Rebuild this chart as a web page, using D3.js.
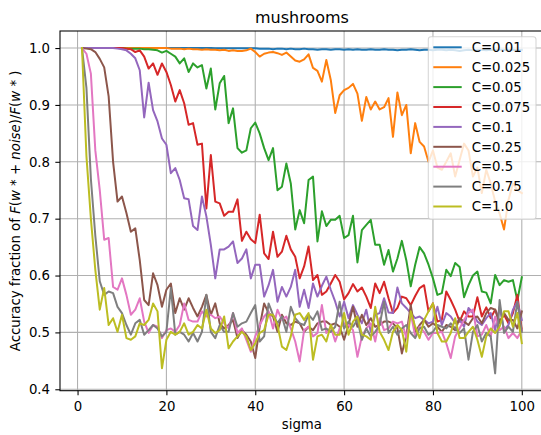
<!DOCTYPE html>
<html>
<head>
<meta charset="utf-8">
<script src="https://cdn.jsdelivr.net/npm/d3@7"></script>
<style>
  html, body { margin: 0; padding: 0; background: #fff; }
  svg { display: block; font-family: "DejaVu Sans", sans-serif; }
</style>
</head>
<body>
<div id="chart"></div>
<script>
// sigma runs 1..100, one point per integer value
const sigma = d3.range(1, 101);

const labels = ["C=0.01", "C=0.025", "C=0.05", "C=0.075", "C=0.1", "C=0.25", "C=0.5", "C=0.75", "C=1.0"];
const colors = ["#1f77b4", "#ff7f0e", "#2ca02c", "#d62728", "#9467bd", "#8c564b", "#e377c2", "#7f7f7f", "#bcbd22"];

// values
const c001 = [
  1,1,1,1,1,1,1,1,1,1, 1,1,1,1,1,1,1,1,1,1, 1,1,1,1,1,1,1,1,1,1,
  0.9995,0.9995,0.9995,0.9995,0.9995,0.9995,0.9995,0.9995,0.9995,0.9995,
  0.999,0.999,0.999,0.998,0.999,0.999,0.998,0.999,0.998,0.998,
  0.999,0.998,0.998,0.997,0.998,0.998,0.997,0.998,0.998,0.997,
  0.998,0.997,0.998,0.997,0.997,0.998,0.997,0.997,0.998,0.997,
  0.997,0.996,0.997,0.997,0.998,0.997,0.996,0.997,0.997,0.996,
  0.997,0.997,0.996,0.997,0.996,0.995,0.996,0.997,0.996,0.996,
  0.997,0.996,0.997,0.996,0.997,0.997,0.996,0.997,0.996,0.997
];
const c0025 = [
  1,1,1,1,1,1,1,1,1,1, 1,1,1,1,1,1,1,1,1,1,
  0.999,0.999,0.999,0.998,0.999,0.998,0.998,0.997,0.998,0.997,
  0.997,0.996,0.997,0.995,0.996,0.995,0.995,0.996,0.999,0.993,
  0.985,0.990,0.992,0.993,0.991,0.988,0.992,0.985,0.978,0.976,
  0.980,0.989,0.965,0.960,0.941,0.979,0.944,0.886,0.917,0.926,
  0.930,0.937,0.920,0.872,0.914,0.892,0.906,0.892,0.896,0.912,
  0.844,0.922,0.882,0.900,0.815,0.868,0.835,0.827,0.800,0.820,
  0.790,0.786,0.800,0.815,0.774,0.803,0.832,0.820,0.774,0.790,
  0.745,0.786,0.762,0.730,0.709,0.681,0.733,0.762,0.750,0.745
];
const c005 = [
  1,1,1,1,1,1,1,1,1,1,
  0.999,0.999,0.999,0.999,0.998,0.998,0.997,0.996,0.992,0.995,
  0.990,0.985,0.973,0.982,0.958,0.973,0.966,0.970,0.929,0.964,
  0.892,0.938,0.951,0.868,0.894,0.824,0.816,0.820,0.859,0.869,
  0.850,0.824,0.803,0.824,0.750,0.756,0.797,0.762,0.681,0.715,
  0.692,0.768,0.774,0.660,0.713,0.687,0.698,0.698,0.705,0.666,
  0.671,0.705,0.623,0.680,0.689,0.698,0.654,0.654,0.619,0.645,
  0.607,0.630,0.661,0.627,0.581,0.619,0.650,0.639,0.619,0.595,
  0.566,0.569,0.610,0.599,0.622,0.615,0.562,0.583,0.600,0.607,
  0.572,0.570,0.551,0.601,0.583,0.592,0.589,0.592,0.556,0.597
];
const c0075 = [
  1,1,1,1,1,1,1,1,1,1,
  0.999,0.998,0.993,0.996,0.985,0.964,0.973,0.953,0.973,0.958,
  0.935,0.906,0.926,0.903,0.865,0.868,0.830,0.832,0.718,0.812,
  0.730,0.727,0.705,0.712,0.712,0.734,0.661,0.677,0.664,0.657,
  0.707,0.639,0.629,0.677,0.633,0.642,0.670,0.646,0.633,0.595,
  0.616,0.651,0.592,0.601,0.566,0.572,0.586,0.601,0.589,0.558,
  0.569,0.585,0.572,0.579,0.563,0.543,0.586,0.569,0.589,0.560,
  0.534,0.543,0.563,0.560,0.548,0.564,0.578,0.583,0.537,0.551,
  0.519,0.522,0.572,0.557,0.540,0.519,0.537,0.528,0.528,0.562,
  0.528,0.544,0.525,0.540,0.519,0.531,0.516,0.534,0.566,0.504
];
const c01 = [
  1,1,1,1,1,1,1,1,0.999,0.998,
  0.996,0.990,0.982,0.961,0.878,0.939,0.891,0.871,0.841,0.830,
  0.780,0.789,0.768,0.736,0.734,0.687,0.680,0.739,0.704,0.654,
  0.595,0.646,0.646,0.651,0.660,0.622,0.630,0.646,0.595,0.619,
  0.619,0.563,0.583,0.610,0.554,0.580,0.563,0.580,0.610,0.545,
  0.575,0.543,0.586,0.563,0.582,0.598,0.575,0.554,0.528,0.554,
  0.525,0.548,0.531,0.516,0.540,0.501,0.531,0.534,0.560,0.535,
  0.534,0.579,0.551,0.543,0.534,0.525,0.528,0.522,0.516,0.519,
  0.545,0.513,0.534,0.528,0.516,0.522,0.510,0.543,0.534,0.519,
  0.513,0.525,0.534,0.504,0.545,0.504,0.513,0.540,0.554,0.522
];
const c025 = [
  1.000,0.999,0.998,0.993,0.981,0.966,0.915,0.800,0.730,0.739,
  0.710,0.677,0.683,0.627,0.557,0.548,0.604,0.583,0.545,0.575,
  0.586,0.534,0.560,0.540,0.560,0.543,0.528,0.545,0.566,0.531,
  0.551,0.516,0.507,0.513,0.522,0.490,0.504,0.496,0.484,0.455,
  0.510,0.551,0.534,0.528,0.501,0.531,0.516,0.513,0.519,0.516,
  0.501,0.510,0.504,0.516,0.519,0.519,0.513,0.516,0.510,0.487,
  0.513,0.545,0.510,0.531,0.513,0.525,0.510,0.513,0.519,0.519,
  0.516,0.507,0.463,0.494,0.548,0.501,0.513,0.522,0.510,0.516,
  0.510,0.501,0.513,0.510,0.504,0.525,0.519,0.513,0.525,0.528,
  0.516,0.534,0.543,0.540,0.516,0.534,0.522,0.522,0.507,0.537
];
const c05 = [
  1.000,0.990,0.955,0.820,0.750,0.663,0.666,0.580,0.575,0.595,
  0.566,0.531,0.540,0.560,0.519,0.499,0.513,0.510,0.490,0.504,
  0.507,0.501,0.513,0.551,0.522,0.519,0.519,0.537,0.528,0.531,
  0.525,0.528,0.516,0.507,0.534,0.499,0.507,0.487,0.466,0.493,
  0.513,0.528,0.537,0.507,0.540,0.522,0.528,0.507,0.484,0.449,
  0.504,0.510,0.493,0.499,0.548,0.499,0.510,0.484,0.507,0.516,
  0.513,0.504,0.457,0.493,0.507,0.516,0.484,0.525,0.504,0.507,
  0.519,0.516,0.519,0.490,0.534,0.493,0.510,0.501,0.487,0.499,
  0.499,0.501,0.481,0.455,0.493,0.507,0.522,0.534,0.540,0.493,
  0.496,0.513,0.493,0.528,0.504,0.510,0.490,0.499,0.490,0.504
];
const c075 = [
  1.000,0.930,0.770,0.670,0.590,0.566,0.572,0.569,0.545,0.534,
  0.513,0.496,0.516,0.522,0.496,0.504,0.513,0.507,0.493,0.501,
  0.578,0.496,0.501,0.496,0.484,0.499,0.484,0.501,0.566,0.501,
  0.490,0.513,0.501,0.501,0.534,0.510,0.516,0.519,0.534,0.548,
  0.484,0.493,0.551,0.531,0.516,0.528,0.501,0.545,0.525,0.516,
  0.513,0.531,0.522,0.537,0.504,0.507,0.501,0.510,0.554,0.507,
  0.519,0.510,0.522,0.487,0.507,0.493,0.501,0.513,0.554,0.499,
  0.510,0.496,0.507,0.513,0.499,0.490,0.507,0.510,0.496,0.501,
  0.513,0.510,0.507,0.516,0.507,0.499,0.507,0.452,0.501,0.513,
  0.484,0.499,0.493,0.428,0.557,0.499,0.510,0.501,0.554,0.501
];
const c1 = [
  1.000,0.810,0.700,0.610,0.540,0.578,0.513,0.525,0.501,0.531,
  0.490,0.487,0.493,0.516,0.513,0.522,0.551,0.537,0.437,0.487,
  0.501,0.496,0.501,0.516,0.496,0.501,0.513,0.507,0.540,0.507,
  0.499,0.504,0.528,0.472,0.484,0.493,0.501,0.493,0.469,0.481,
  0.499,0.504,0.531,0.531,0.513,0.475,0.469,0.493,0.531,0.534,
  0.522,0.534,0.452,0.493,0.496,0.484,0.513,0.496,0.496,0.534,
  0.496,0.519,0.528,0.496,0.493,0.487,0.545,0.501,0.487,0.469,
  0.501,0.513,0.504,0.466,0.537,0.510,0.490,0.522,0.537,0.551,
  0.499,0.484,0.484,0.499,0.525,0.490,0.490,0.501,0.510,0.487,
  0.457,0.493,0.507,0.499,0.510,0.537,0.537,0.510,0.534,0.481
];

const series = [c001, c0025, c005, c0075, c01, c025, c05, c075, c1];
const xTicks = [0, 20, 40, 60, 80, 100];
const yTicks = [0.4, 0.5, 0.6, 0.7, 0.8, 0.9, 1.0];

const width = 541, height = 435;
const plotL = 60, plotR = 543.8, plotT = 31, plotB = 390.7;

const svg = d3.select("#chart").append("svg")
  .attr("width", width)
  .attr("height", height);

// matplotlib-style limits (5% margins)
const x = d3.scaleLinear().domain([-3.95, 104.95]).range([plotL, plotR]);
const y = d3.scaleLinear().domain([0.3975, 1.030]).range([plotB, plotT]);

svg.append("defs").append("clipPath").attr("id", "plotclip")
  .append("rect")
  .attr("x", plotL).attr("y", plotT)
  .attr("width", plotR - plotL).attr("height", plotB - plotT);

// grid
const grid = svg.append("g").attr("stroke", "#b0b0b0").attr("stroke-width", 1.07);
grid.selectAll(".gx").data(xTicks).join("line").attr("class", "gx")
  .attr("x1", d => x(d)).attr("x2", d => x(d))
  .attr("y1", plotT).attr("y2", plotB);
grid.selectAll(".gy").data(yTicks).join("line").attr("class", "gy")
  .attr("x1", plotL).attr("x2", plotR)
  .attr("y1", d => y(d)).attr("y2", d => y(d));

// lines
const line = d3.line()
  .x((d, i) => x(sigma[i]))
  .y(d => y(d));

svg.append("g").attr("clip-path", "url(#plotclip)")
  .selectAll("path")
  .data(series)
  .join("path")
    .attr("fill", "none")
    .attr("stroke", (d, i) => colors[i])
    .attr("stroke-width", 2)
    .attr("stroke-linejoin", "round")
    .attr("stroke-linecap", "square")
    .attr("d", line);

// spines
svg.append("rect")
  .attr("x", plotL).attr("y", plotT)
  .attr("width", plotR - plotL).attr("height", plotB - plotT)
  .attr("fill", "none").attr("stroke", "#000").attr("stroke-width", 1.07);

// axes
const xAxis = svg.append("g")
  .attr("transform", `translate(0,${plotB})`)
  .call(d3.axisBottom(x).tickValues(xTicks).tickSize(4.67).tickPadding(6.2).tickFormat(d3.format("d")));
const yAxis = svg.append("g")
  .attr("transform", `translate(${plotL},0)`)
  .call(d3.axisLeft(y).tickValues(yTicks).tickSize(4.67).tickPadding(5.3).tickFormat(d3.format(".1f")));

[xAxis, yAxis].forEach(a => {
  a.select(".domain").remove();
  a.selectAll(".tick line").attr("stroke", "#000").attr("stroke-width", 1.07);
  a.selectAll(".tick text")
    .attr("fill", "#000")
    .style("font-family", "'DejaVu Sans', sans-serif")
    .style("font-size", "13.3px");
});

// title and axis labels
svg.append("text")
  .attr("x", (plotL + plotR) / 2).attr("y", 23.3)
  .attr("text-anchor", "middle")
  .style("font-size", "16px")
  .text("mushrooms");

svg.append("text")
  .attr("x", (plotL + plotR) / 2).attr("y", 428.7)
  .attr("text-anchor", "middle")
  .style("font-size", "13.3px")
  .text("sigma");

const ylab = svg.append("text")
  .attr("transform", `translate(20.2,${(plotT + plotB) / 2}) rotate(-90)`)
  .attr("text-anchor", "middle")
  .style("font-size", "13.3px")
  .style("white-space", "pre");
const parts = [
  ["Accuracy fraction of ", false], ["F", true], ["(", false], ["w", true],
  [" * + ", false], ["noise", true], [")/", false], ["F", true], ["(", false],
  ["w", true], [" * )", false]
];
ylab.selectAll("tspan").data(parts).join("tspan")
  .style("font-style", d => d[1] ? "italic" : "normal")
  .text(d => d[0]);

// legend
const lg = svg.append("g");
lg.append("rect")
  .attr("x", 428.3).attr("y", 36.7)
  .attr("width", 107.7).attr("height", 182.6)
  .attr("rx", 2.8)
  .attr("fill", "#fff").attr("fill-opacity", 0.8)
  .attr("stroke", "#ccc").attr("stroke-opacity", 0.8).attr("stroke-width", 1.07);

const rows = lg.selectAll(".row").data(labels).join("g")
  .attr("class", "row")
  .attr("transform", (d, i) => `translate(0,${47.3 + i * 19.9})`);
rows.append("line")
  .attr("x1", 433.3).attr("x2", 461.7)
  .attr("stroke", (d, i) => colors[i]).attr("stroke-width", 2);
rows.append("text")
  .attr("x", 471.7).attr("dy", "0.36em")
  .style("font-size", "13.3px")
  .text(d => d);
</script>
</body>
</html>
